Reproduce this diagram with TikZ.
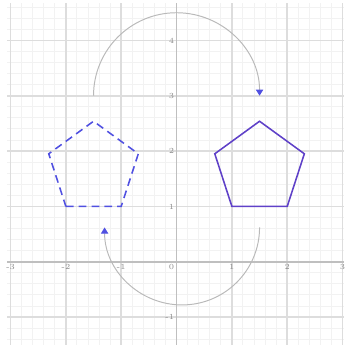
\documentclass[tikz,border=0pt]{standalone}
\usetikzlibrary{arrows.meta}
\definecolor{imgblue}{RGB}{80,80,225}
\definecolor{objpurple}{RGB}{95,65,200}
\tikzset{
  minorgrid/.style={gray!10, line width=0.5pt},
  majorgrid/.style={gray!27, line width=0.8pt},
  axisline/.style={gray!50, line width=0.8pt},
  ticklabel/.style={font=\fontsize{4}{4}\selectfont, text=gray!90, inner sep=1pt},
  turn/.style={gray!55, line width=0.5pt, -{Triangle[length=3.2pt,width=3.8pt,color=imgblue]}},
}
\begin{document}
\begin{tikzpicture}
\useasboundingbox (-3.19,-1.54) rectangle (3.03,4.73);
% grid and axes
\draw[minorgrid, step=0.2] (-3.06,-1.5) grid (3.03,4.68);
\draw[majorgrid, step=1] (-3.06,-1.5) grid (3.03,4.68);
\draw[axisline] (-3.06,0) -- (3.03,0);
\draw[axisline] (0,-1.5) -- (0,4.68);
\foreach \x in {-3,-2,-1,1,2,3}
  \node[ticklabel, anchor=north] (xl\x) at (\x,0) {\x};
\node[ticklabel, anchor=north east] (xl0) at (0,0) {0};
\foreach \y in {-1,1,2,3,4}
  \node[ticklabel, anchor=east] (yl\y) at (0,\y) {\y};
% object
\coordinate (a1) at (1,1);
\coordinate (a2) at (2,1);
\coordinate (a3) at (2.309,1.951);
\coordinate (a4) at (1.5,2.539);
\coordinate (a5) at (0.691,1.951);
\draw[objpurple, line width=0.8pt] (a1) -- (a2) -- (a3) -- (a4) -- (a5) -- cycle;
% image
\coordinate (b1) at (-2,1);
\coordinate (b2) at (-1,1);
\coordinate (b3) at (-0.691,1.951);
\coordinate (b4) at (-1.5,2.539);
\coordinate (b5) at (-2.309,1.951);
\draw[imgblue, line width=0.8pt, dash pattern=on 4pt off 2.6pt] (b1) -- (b2) -- (b3) -- (b4) -- (b5) -- cycle;
% turning arcs
\coordinate (upstart) at (-1.5,3);
\coordinate (lowstart) at (1.5,0.62);
\draw[turn] (upstart) arc[start angle=180, end angle=0, radius=1.5];
\draw[turn] (lowstart) arc[start angle=0, end angle=-180, radius=1.4];
\end{tikzpicture}
\end{document}
